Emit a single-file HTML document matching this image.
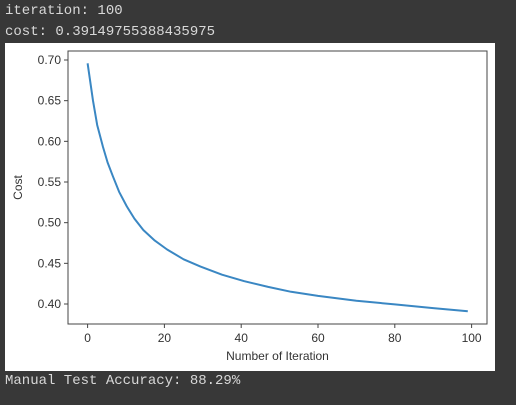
<!DOCTYPE html>
<html><head><meta charset="utf-8"><style>
body{margin:0;background:#383838;width:516px;height:405px;overflow:hidden;font-family:"Liberation Mono",monospace;}
.out{position:absolute;left:5px;color:#d8d8d8;font-size:14px;line-height:20px;white-space:pre;}
#fig{position:absolute;left:5px;top:43px;width:490px;height:328px;background:#fff;}
</style></head><body>
<div class="out" style="top:1px">iteration: 100</div>
<div class="out" style="top:22px">cost: 0.39149755388435975</div>
<div id="fig">
<svg id="svg" width="490" height="328" style="font-family:'Liberation Sans',sans-serif"></svg>
</div>
<div class="out" style="top:371px">Manual Test Accuracy: 88.29%</div>
<script>
const iterations=[0,1.4,2.5,4,5.2,6.6,8.2,10.2,12.2,14.5,17.5,20.7,25,29.4,35,40.8,47,53,60,70,80,90,99];
const costs=[0.696,0.650,0.620,0.593,0.574,0.557,0.538,0.520,0.505,0.491,0.478,0.467,0.455,0.446,0.436,0.428,0.421,0.415,0.410,0.404,0.3995,0.395,0.391];
const xTicks=[0,20,40,60,80,100];
const yTicks=[0.40,0.45,0.50,0.55,0.60,0.65,0.70];
const OX=5,OY=43;
const L=68-OX,R=487-OX,T=51-OY,B=324-OY;
const xs=v=>87.6-OX+v*(471.6-87.6)/100;
const ys=v=>304-OY-(v-0.40)*(304-60)/0.30;
const svg=document.getElementById('svg');
const NS='http://www.w3.org/2000/svg';
function mk(t,a){const e=document.createElementNS(NS,t);for(const k in a)e.setAttribute(k,a[k]);svg.appendChild(e);return e;}
const frame=mk('rect',{x:L,y:T,width:R-L,height:B-T,fill:'none',stroke:'#444','stroke-width':1});


xTicks.forEach(v=>{
 const tk=mk('line',{x1:xs(v),x2:xs(v),y1:B,y2:B+4,stroke:'#444'});
 
 
 const t=mk('text',{x:xs(v),y:B+18,'text-anchor':'middle','font-size':12,fill:'#333'});t.textContent=v;
 
 
});
yTicks.forEach(v=>{
 const tk=mk('line',{x1:L-4,x2:L,y1:ys(v),y2:ys(v),stroke:'#444'});
 
 
 const t=mk('text',{x:L-7,y:ys(v)+4,'text-anchor':'end','font-size':12,fill:'#333'});t.textContent=v.toFixed(2);
 
 
});
const xl=mk('text',{x:(L+R)/2,y:B+36,'text-anchor':'middle','font-size':12,fill:'#333'});xl.textContent='Number of Iteration';


const yl=mk('text',{x:0,y:0,'text-anchor':'middle','font-size':12,fill:'#333',transform:`translate(${17},${(T+B)/2}) rotate(-90)`});yl.textContent='Cost';


const pts=iterations.map((x,i)=>xs(x).toFixed(1)+','+ys(costs[i]).toFixed(1)).join(' ');
const line=mk('polyline',{points:pts,fill:'none',stroke:'#3a87c3','stroke-width':2,'stroke-linejoin':'round'});


</script>
</body></html>
